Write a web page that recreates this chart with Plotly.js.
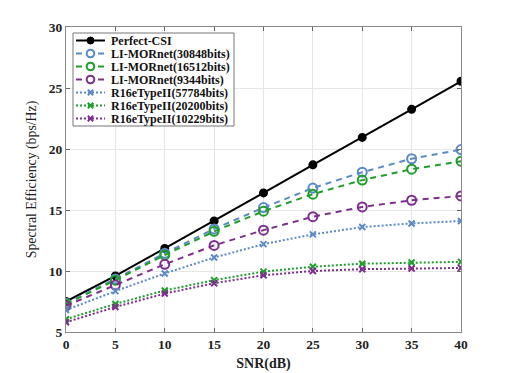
<!DOCTYPE html>
<html><head><meta charset="utf-8">
<script src="https://cdn.plot.ly/plotly-3.0.1.min.js"></script>
<style>body{margin:0;background:#fff}#c{width:510px;height:373px}</style>
</head><body><div id="c"></div>
<script>
const snr = [0, 5, 10, 15, 20, 25, 30, 35, 40];
const perfectCSI = [7.5, 9.6, 11.85, 14.1, 16.4, 18.7, 20.95, 23.25, 25.55];
const liMor30848 = [7.35, 9.35, 11.45, 13.45, 15.2, 16.8, 18.1, 19.2, 19.95];
const liMor16512 = [7.3, 9.25, 11.3, 13.25, 14.9, 16.3, 17.45, 18.35, 19.0];
const liMor9344 = [7.15, 8.85, 10.55, 12.1, 13.35, 14.45, 15.25, 15.8, 16.15];
const r16_57784 = [6.8, 8.35, 9.8, 11.1, 12.2, 13.0, 13.6, 13.9, 14.1];
const r16_20200 = [6.05, 7.3, 8.4, 9.25, 9.95, 10.35, 10.6, 10.7, 10.75];
const r16_10229 = [5.8, 7.05, 8.15, 9.0, 9.65, 10.0, 10.15, 10.2, 10.25];
const names = ['Perfect-CSI','LI-MORnet(30848bits)','LI-MORnet(16512bits)','LI-MORnet(9344bits)','R16eTypeII(57784bits)','R16eTypeII(20200bits)','R16eTypeII(10229bits)'];

const blue = '#5B8AC4', green = '#1F9E2C', purple = '#7E2F8E';
const DASH = '6px,5px', DOT = '2px,2px';
const styles = [
  {color: '#000000', dash: 'solid', sym: 'fill'},
  {color: blue, dash: DASH, sym: 'o'},
  {color: green, dash: DASH, sym: 'o'},
  {color: purple, dash: DASH, sym: 'o'},
  {color: blue, dash: DOT, sym: 'x'},
  {color: green, dash: DOT, sym: 'x'},
  {color: purple, dash: DOT, sym: 'x'}
];
const series = [perfectCSI, liMor30848, liMor16512, liMor9344, r16_57784, r16_20200, r16_10229];
const symMap = {fill: ['circle', 7], o: ['circle-open', 9], x: ['x-thin-open', 6]};
const data = series.map((y, i) => ({
  x: snr, y: y, name: names[i], type: 'scatter', mode: 'lines+markers', showlegend: false,
  line: {color: styles[i].color, width: 2, dash: styles[i].dash},
  marker: {symbol: symMap[styles[i].sym][0], size: symMap[styles[i].sym][1], color: styles[i].color,
    line: {color: styles[i].color, width: 2}}
}));

// plot-area pixel geometry -> paper coords (for the hand-drawn legend box)
const L = 66, R = 461, T = 27, B = 332;
const px = v => (v - L) / (R - L);
const py = v => (B - v) / (B - T);
const shapes = [], annotations = [];
shapes.push({type: 'rect', xref: 'paper', yref: 'paper', x0: px(73), x1: px(234), y0: py(33), y1: py(126),
  fillcolor: '#ffffff', line: {color: '#777', width: 1}, layer: 'above'});
const rowY = [40.5, 53.5, 66.5, 79.5, 92.5, 105.5, 118.5];
names.forEach((n, i) => {
  const yc = rowY[i], s = styles[i];
  shapes.push({type: 'line', xref: 'paper', yref: 'paper', x0: px(76), x1: px(105), y0: py(yc), y1: py(yc),
    line: {color: s.color, width: 2, dash: s.dash}, layer: 'above'});
  const cx = 90.5;
  if (s.sym === 'fill') {
    shapes.push({type: 'circle', xref: 'paper', yref: 'paper', x0: px(cx - 3.5), x1: px(cx + 3.5), y0: py(yc - 3.5), y1: py(yc + 3.5),
      fillcolor: s.color, line: {color: s.color, width: 1}, layer: 'above'});
  } else if (s.sym === 'o') {
    shapes.push({type: 'circle', xref: 'paper', yref: 'paper', x0: px(cx - 3.8), x1: px(cx + 3.8), y0: py(yc - 3.8), y1: py(yc + 3.8),
      fillcolor: '#ffffff', line: {color: s.color, width: 2}, layer: 'above'});
  } else {
    const d = 2.7;
    shapes.push({type: 'path', xref: 'paper', yref: 'paper',
      path: `M${px(cx - d)},${py(yc - d)}L${px(cx + d)},${py(yc + d)}M${px(cx - d)},${py(yc + d)}L${px(cx + d)},${py(yc - d)}`,
      line: {color: s.color, width: 2}, layer: 'above'});
  }
  annotations.push({xref: 'paper', yref: 'paper', x: px(108.5), y: py(yc), xanchor: 'left', yanchor: 'middle',
    text: '<b>' + n + '</b>', showarrow: false,
    font: {family: 'Liberation Serif', size: 12, color: '#111'}});
});

const fam = 'Liberation Serif';
const layout = {
  width: 510, height: 373,
  margin: {l: L, r: 510 - R, t: T, b: 373 - B},
  paper_bgcolor: '#fff', plot_bgcolor: '#fff',
  font: {family: fam, size: 12, color: '#222'},
  showlegend: false,
  shapes: shapes, annotations: annotations,
  xaxis: {range: [0, 40], tickvals: [0,5,10,15,20,25,30,35,40], ticks: 'inside', ticklen: 4, tickcolor: '#666',
    showgrid: true, gridcolor: '#e6e6e6', linecolor: '#888', mirror: 'ticks', zeroline: false,
    tickfont: {family: fam, size: 13.5, color: '#222', weight: 'bold'},
    title: {text: 'SNR(dB)', standoff: 6, font: {family: fam, size: 14, color: '#222', weight: 'bold'}}},
  yaxis: {range: [5, 30], tickvals: [5,10,15,20,25,30], ticks: 'inside', ticklen: 4, tickcolor: '#666',
    showgrid: true, gridcolor: '#e6e6e6', linecolor: '#888', mirror: 'ticks', zeroline: false,
    tickfont: {family: fam, size: 13.5, color: '#222', weight: 'bold'},
    title: {text: 'Spectral Efficiency (bps/Hz)', standoff: 8, font: {family: fam, size: 13.8, color: '#222'}}}
};
Plotly.newPlot('c', data, layout, {displayModeBar: false, staticPlot: true});
</script></body></html>
